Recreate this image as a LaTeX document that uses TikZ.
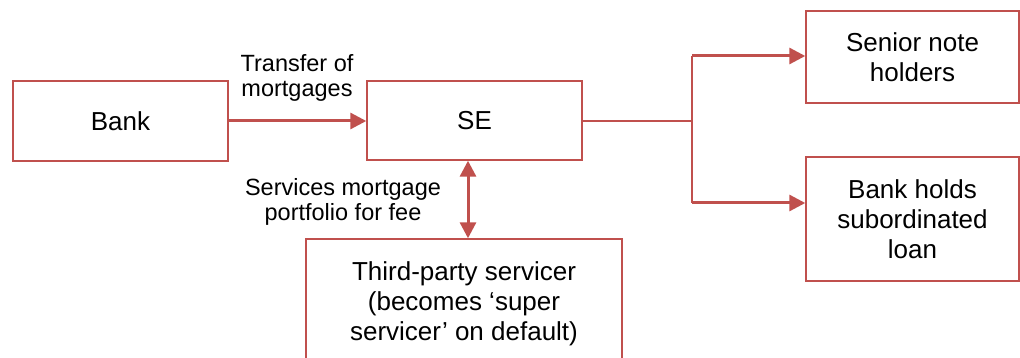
\documentclass[tikz,border=0pt]{standalone}
\usepackage{fontspec}
\setmainfont{Liberation Sans}
\usetikzlibrary{arrows.meta}
\definecolor{boxred}{HTML}{C0504D}
\tikzset{
  box/.style={draw=boxred, line width=1.4pt, rectangle, align=center, inner sep=0pt,
    font=\fontsize{26}{30}\selectfont},
  lbl/.style={align=center, inner sep=0pt, font=\fontsize{23.5}{25.5}\selectfont},
  bigarrow/.style={draw=boxred, line width=3pt, -{Triangle[length=16pt,width=16pt]}},
  dblarrow/.style={draw=boxred, line width=3pt, {Triangle[length=16pt,width=16pt]}-{Triangle[length=16pt,width=16pt]}},
  thinline/.style={draw=boxred, line width=1.4pt},
}
\begin{document}
\begin{tikzpicture}[x=1pt,y=-1pt]
\useasboundingbox (0,0) rectangle (1020,358);
\clip (0,0) rectangle (1020,358);
\node[box, minimum width=215pt, minimum height=80pt] (bank) at (120.5,121) {Bank};
\node[box, minimum width=215pt, minimum height=79pt] (se) at (474.5,120.5) {SE};
\node[box, minimum width=213pt, minimum height=92pt] (senior) at (912.5,57) {Senior note\\holders};
\node[box, minimum width=213pt, minimum height=124pt] (sub) at (912.5,219) {Bank holds\\subordinated\\loan};
\node[box, minimum width=316pt, minimum height=130pt] (third) at (464,304) {Third-party servicer\\(becomes ‘super\\servicer’ on default)};
\node[lbl] (ltransfer) at (297,78) {Transfer of\\mortgages};
\node[lbl] (lservices) at (343,202) {Services mortgage\\portfolio for fee};
\draw[bigarrow] (bank.east) -- (bank.east -| se.west);
\coordinate (split) at (692,121);
\coordinate (up) at (692,56);
\coordinate (down) at (692,203);
\draw[thinline] (se.east |- split) -- (split);
\draw[thinline] (up) -- (down);
\draw[bigarrow] (up) -- (up -| senior.west);
\draw[bigarrow] (down) -- (down -| sub.west);
\coordinate (dtop) at (468,0);
\draw[dblarrow] (dtop |- se.south) -- (dtop |- third.north);
\end{tikzpicture}
\end{document}
